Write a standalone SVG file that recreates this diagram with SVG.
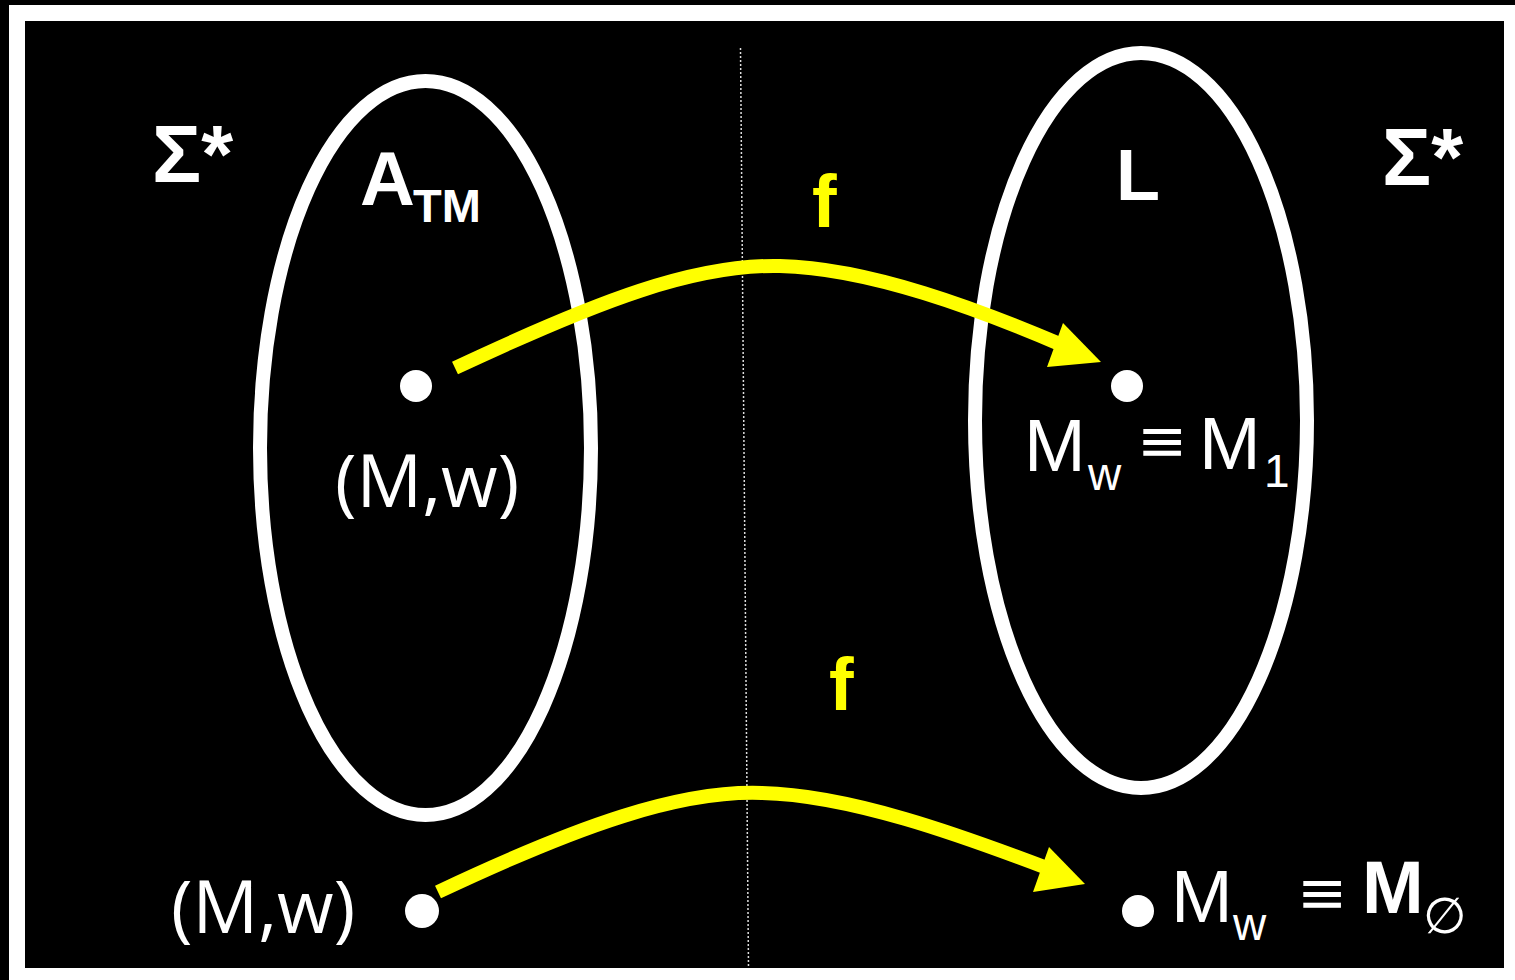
<svg xmlns="http://www.w3.org/2000/svg" width="1515" height="980" viewBox="0 0 1515 980">
<style>
.lbl{fill:#fff;font-family:"Liberation Sans",Arial,sans-serif}
.b{font-weight:bold}
.ow{fill:#fff;font-family:"Open Sans","Noto Sans",sans-serif}
.eq{fill:#fff;font-family:"DejaVu Sans",sans-serif;font-size:60px}
.set{fill:none;stroke:#fff;stroke-width:14}
.arr{fill:none;stroke:#ffff00;stroke-width:14}
.f{fill:#ffff00;font-family:"Liberation Sans",Arial,sans-serif;font-weight:bold;font-size:74px}
.dot{fill:#fff}
</style>
<rect x="0" y="0" width="1515" height="980" fill="#000"/>
<rect x="9" y="5" width="1506" height="975" fill="#fff"/>
<rect x="25" y="21" width="1479" height="947" fill="#000"/>
<line x1="740.5" y1="48" x2="748.5" y2="968" stroke="#ddd" stroke-width="1.5" stroke-dasharray="2 2"/>
<g id="sigma-left"><text class="lbl b" x="152" y="182" font-size="82">Σ*</text></g>
<g id="sigma-right"><text class="lbl b" x="1382" y="185" font-size="82">Σ*</text></g>
<g id="A_TM">
<ellipse class="set" cx="425.5" cy="448" rx="165.5" ry="367"/>
<text class="lbl b" x="360" y="205" font-size="76">A<tspan x="413" y="222" font-size="47">TM</tspan></text>
</g>
<g id="L">
<ellipse class="set" cx="1141" cy="420.5" rx="166" ry="367.5"/>
<text class="lbl b" x="1116" y="200" font-size="72">L</text>
</g>
<g id="mw-in">
<circle class="dot" cx="416" cy="386" r="16"/>
<text class="ow" x="335" y="507" font-size="73">(M,w)</text>
</g>
<g id="mw-out">
<circle class="dot" cx="422" cy="911" r="17"/>
<text class="ow" x="171" y="933" font-size="73">(M,w)</text>
</g>
<g id="m1">
<circle class="dot" cx="1127" cy="386" r="16"/>
<text class="lbl" x="1024" y="471" font-size="74">M<tspan x="1088" y="490" font-size="46">w</tspan></text>
<text class="eq" x="1137" y="461">≡</text>
<text class="lbl" x="1199" y="469" font-size="74">M<tspan x="1264" y="487" font-size="46">1</tspan></text>
</g>
<g id="mempty">
<circle class="dot" cx="1138" cy="911" r="16"/>
<text class="lbl" x="1171" y="922" font-size="74">M<tspan x="1233" y="940" font-size="46">w</tspan></text>
<text class="eq" x="1297" y="913">≡</text>
<text class="lbl b" x="1362" y="913" font-size="74">M</text>
<text class="lbl" x="1423" y="933" font-size="50" font-family="DejaVu Sans,sans-serif">∅</text>
</g>
<g id="connectors">
<path class="arr" d="M455,368 C600,300 695,264 780,266 C870,268 980,310 1062,345"/>
<polygon points="1101,362 1063,323 1047,367" fill="#ffff00"/>
<text class="f" x="812" y="227">f</text>
<path class="arr" d="M438,892 C580,825 680,790 762,793 C850,795 960,835 1047,868"/>
<polygon points="1085,884 1049,847 1033,892" fill="#ffff00"/>
<text class="f" x="829" y="710">f</text>
</g>
</svg>
